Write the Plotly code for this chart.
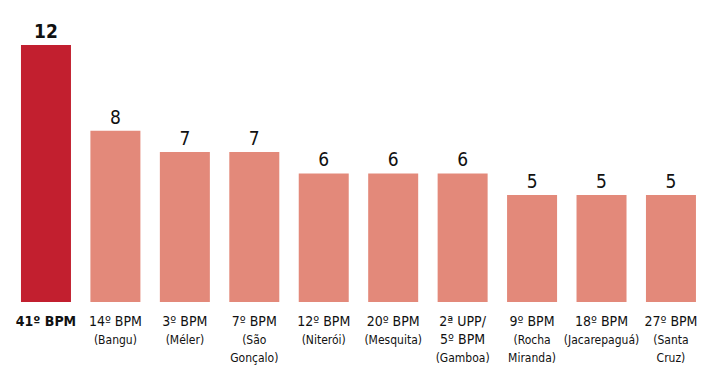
import plotly.graph_objects as go

categories = ["41º BPM", "14º BPM", "3º BPM", "7º BPM", "12º BPM", "20º BPM",
              "2ª UPP/<br>5º BPM", "9º BPM", "18º BPM", "27º BPM"]
subtitles = ["", "(Bangu)", "(Méler)", "(São<br>Gonçalo)", "(Niterói)", "(Mesquita)",
             "(Gamboa)", "(Rocha<br>Miranda)", "(Jacarepaguá)", "(Santa<br>Cruz)"]
values = [12, 8, 7, 7, 6, 6, 6, 5, 5, 5]

DARK = "#C21F2F"
LIGHT = "#E3897A"
FONT = "DejaVu Sans Condensed, Liberation Sans Narrow, sans-serif"

x = list(range(len(values)))
colors = [DARK] + [LIGHT] * (len(values) - 1)
texts = ["<b>%d</b>" % values[0]] + [str(v) for v in values[1:]]

ticktext = []
for i, (c, s) in enumerate(zip(categories, subtitles)):
    if i == 0:
        ticktext.append("<b>%s</b>" % c)
    else:
        ticktext.append("%s<br><span style='font-size:12px'>%s</span>" % (c, s))

fig = go.Figure(go.Bar(
    x=x, y=values, marker=dict(color=colors, line=dict(width=0)),
    width=0.72, text=texts, textposition="outside",
    textfont=dict(family=FONT, size=19, color="#111111"),
    cliponaxis=False,
))

fig.update_layout(
    width=702, height=365,
    margin=dict(l=0, r=0, t=0, b=63),
    paper_bgcolor="white", plot_bgcolor="white",
    showlegend=False,
    bargap=0.28,
    xaxis=dict(range=[-0.662, 9.447], tickvals=x, ticktext=ticktext,
               showgrid=False, zeroline=False, showline=False, ticks="",
               ticklabelstandoff=9,
               tickfont=dict(family=FONT, size=14, color="#111111"), fixedrange=True),
    yaxis=dict(range=[0, 14.1], visible=False, fixedrange=True),
)

fig.write_html("out.html")
